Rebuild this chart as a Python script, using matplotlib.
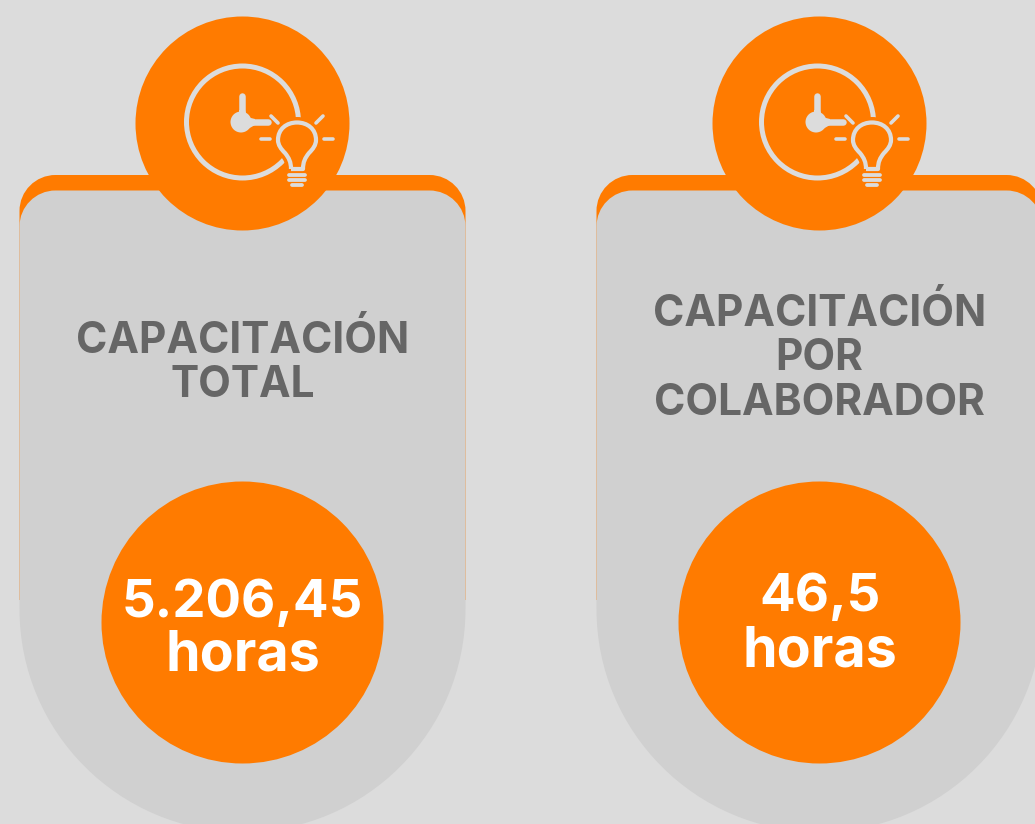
import matplotlib
matplotlib.use("Agg")
import matplotlib.pyplot as plt
from matplotlib.patches import Circle, PathPatch, Polygon
from matplotlib.path import Path

# data
titles = [["CAPACITACIÓN", "TOTAL"], ["CAPACITACIÓN", "POR", "COLABORADOR"]]
values = ["5.206,45", "46,5"]
unit = "horas"

# layout, in pixels of the picture
centers = [242.5, 819.5]
icon_x = [242, 817]
value_y = [[598, 650], [592, 646]]
title_y = [[336, 381], [309, 354, 399]]

bg = "#dcdcdc"
card = "#d0d0d0"
orange = "#ff7b00"
text_col = "#666666"
font = ["Inter", "DejaVu Sans"]


def px(w):
    return w * 0.72


def top_corners(cx, top, half, r, straight):
    k = 0.5523
    verts = [(cx - half, straight), (cx - half, top + r),
             (cx - half, top + r - k * r), (cx - half + r - k * r, top), (cx - half + r, top),
             (cx + half - r, top),
             (cx + half - r + k * r, top), (cx + half, top + r - k * r), (cx + half, top + r),
             (cx + half, straight)]
    codes = [Path.MOVETO, Path.LINETO, Path.CURVE4, Path.CURVE4, Path.CURVE4, Path.LINETO,
             Path.CURVE4, Path.CURVE4, Path.CURVE4, Path.LINETO]
    return verts, codes


def back_path(cx, top, half=223, r=36, straight=600):
    verts, codes = top_corners(cx, top, half, r, straight)
    return Path(verts + [verts[0]], codes + [Path.CLOSEPOLY])


def card_path(cx, top, half=223, r=36, straight=609):
    # round lower end, runs past the bottom of the picture
    k = 0.5523 * half
    verts, codes = top_corners(cx, top, half, r, straight)
    bottom = straight + half
    verts += [(cx + half, straight + k), (cx + k, bottom), (cx, bottom),
              (cx - k, bottom), (cx - half, straight + k), (cx - half, straight),
              (cx - half, straight)]
    codes += [Path.CURVE4] * 6 + [Path.CLOSEPOLY]
    return Path(verts, codes)


def bulb_path(x, y):
    # head and neck of the lamp, open at the bottom
    verts = [(x - 6, y + 28), (x - 6, y + 21), (x - 8, y + 17), (x - 12, y + 12),
             (x - 16, y + 8), (x - 19, y + 4), (x - 19, y - 1),
             (x - 19, y - 12), (x - 10.5, y - 18.5), (x, y - 18.5),
             (x + 10.5, y - 18.5), (x + 19, y - 12), (x + 19, y - 1),
             (x + 19, y + 4), (x + 16, y + 8), (x + 12, y + 12),
             (x + 8, y + 17), (x + 6, y + 21), (x + 6, y + 28), (x - 6, y + 28)]
    codes = [Path.MOVETO] + [Path.CURVE4] * 18 + [Path.LINETO]
    return Path(verts, codes)


def draw_icon(ax, cx, cy):
    ax.add_patch(Circle((cx + 0.5, cy - 1), 56, fill=False, ec=bg, lw=px(5), zorder=4))
    # clock hands
    ax.plot([cx, cx], [cy - 27, cy], color=bg, lw=px(6.5), solid_capstyle="round", zorder=5)
    ax.plot([cx, cx + 26], [cy - 1, cy - 1], color=bg, lw=px(6.5), solid_capstyle="round", zorder=5)
    ax.add_patch(Circle((cx - 1, cy - 1), 10.5, fc=bg, ec="none", zorder=5))
    ax.add_patch(Polygon([(cx - 3, cy - 13), (cx + 3, cy - 13), (cx + 5, cy - 6), (cx + 13, cy - 4),
                          (cx + 13, cy + 2), (cx + 6, cy + 6), (cx - 3, cy + 7)],
                         fc=bg, ec="none", zorder=5))
    # lamp
    bx, by = cx + 55, cy + 18
    b = bulb_path(bx, by)
    ax.add_patch(PathPatch(b, fc=orange, ec=orange, lw=px(11), zorder=6))
    ax.add_patch(PathPatch(b, fc=orange, ec=bg, lw=px(4.2), zorder=7, joinstyle="round"))
    for dy, w in [(34, 8), (39, 8), (44, 5)]:
        ax.plot([bx - w, bx + w], [by + dy, by + dy], color=bg, lw=px(3.8),
                solid_capstyle="round", zorder=7)
    # rays
    rays = [((-36, -2), (-27, -2)), ((-26, -25), (-19, -18)), ((19, -18), (26, -25)), ((27, -2), (36, -2))]
    for a, c in rays:
        ax.plot([bx + a[0], bx + c[0]], [by + a[1], by + c[1]], color=bg, lw=px(3.6),
                solid_capstyle="round", zorder=7)


fig = plt.figure(figsize=(10.35, 8.24), dpi=100, facecolor=bg)
ax = fig.add_axes([0, 0, 1, 1])
ax.set_xlim(0, 1035)
ax.set_ylim(824, 0)
ax.axis("off")

for i, cx in enumerate(centers):
    ax.add_patch(PathPatch(back_path(cx, 175), fc=orange, ec="none", zorder=1))
    ax.add_patch(PathPatch(card_path(cx, 190.5), fc=card, ec="none", zorder=2))
    ax.add_patch(Circle((cx, 123.5), 107, fc=orange, ec="none", zorder=3))
    draw_icon(ax, icon_x[i], 123)

    for line, y in zip(titles[i], title_y[i]):
        ax.text(cx, y, line, color=text_col, fontsize=30.5, fontweight="bold", family=font,
                ha="center", va="center_baseline", zorder=4)

    ax.add_patch(Circle((cx, 622.5), 141, fc=orange, ec="none", zorder=3))
    ax.text(cx, value_y[i][0], values[i], color="white", fontsize=38, fontweight="bold", family=font,
            ha="center", va="center_baseline", zorder=4)
    ax.text(cx, value_y[i][1], unit, color="white", fontsize=40, fontweight="bold", family=font,
            ha="center", va="center_baseline", zorder=4)

fig.savefig("out.png", dpi=100, facecolor=bg)
